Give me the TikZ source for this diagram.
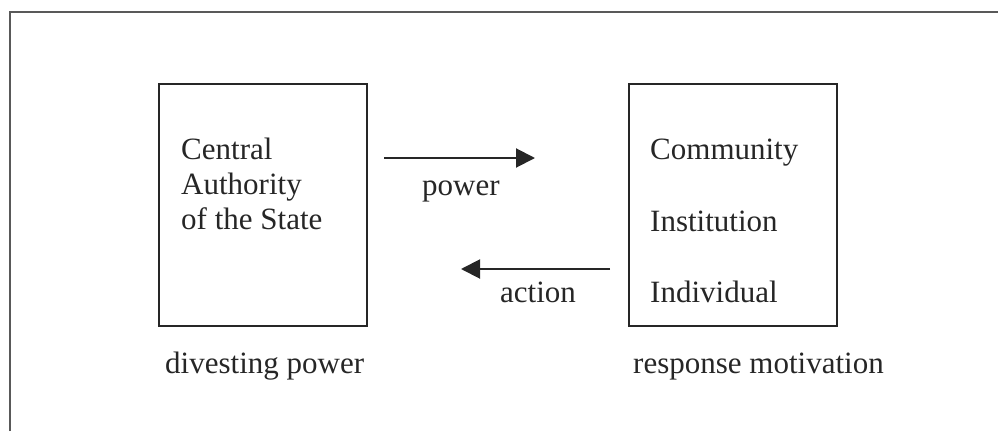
\documentclass[tikz,border=0pt]{standalone}
\usepackage{fontspec}
\setmainfont{Liberation Serif}
\usetikzlibrary{arrows.meta}
\begin{document}
\begin{tikzpicture}[x=1pt,y=-1pt,
  box/.style={draw=black!85,line width=2pt,rectangle,minimum width=208pt,minimum height=242pt,inner sep=0pt},
  txt/.style={anchor=base west,inner sep=0pt,font=\fontsize{31}{35}\selectfont,text=black!85},
  arr/.style={draw=black!85,line width=2pt,-{Triangle[length=19pt,width=19pt]}}]
\useasboundingbox (0,0) rectangle (998,431);
\draw[black!65,line width=2pt] (9.5,431) -- (9.5,11.5) -- (998,11.5);
\node[box] (L) at (263,204.5) {};
\node[box] (R) at (733,204.5) {};
\node[txt] (c1) at (181,159) {Central};
\node[txt] (c2) at (181,194) {Authority};
\node[txt] (c3) at (181,229) {of the State};
\node[txt] (r1) at (650,159) {Community};
\node[txt] (r2) at (650,231) {Institution};
\node[txt] (r3) at (650,302) {Individual};
\node[txt] (dp) at (165,373) {divesting power};
\node[txt] (rm) at (633,373) {response motivation};
\node[txt] (pw) at (422,195) {power};
\node[txt] (ac) at (500,302) {action};
\coordinate (p1) at (384,158);
\coordinate (p2) at (535,158);
\coordinate (a1) at (610,269);
\coordinate (a2) at (461,269);
\draw[arr] (p1) -- (p2);
\draw[arr] (a1) -- (a2);
\end{tikzpicture}
\end{document}
